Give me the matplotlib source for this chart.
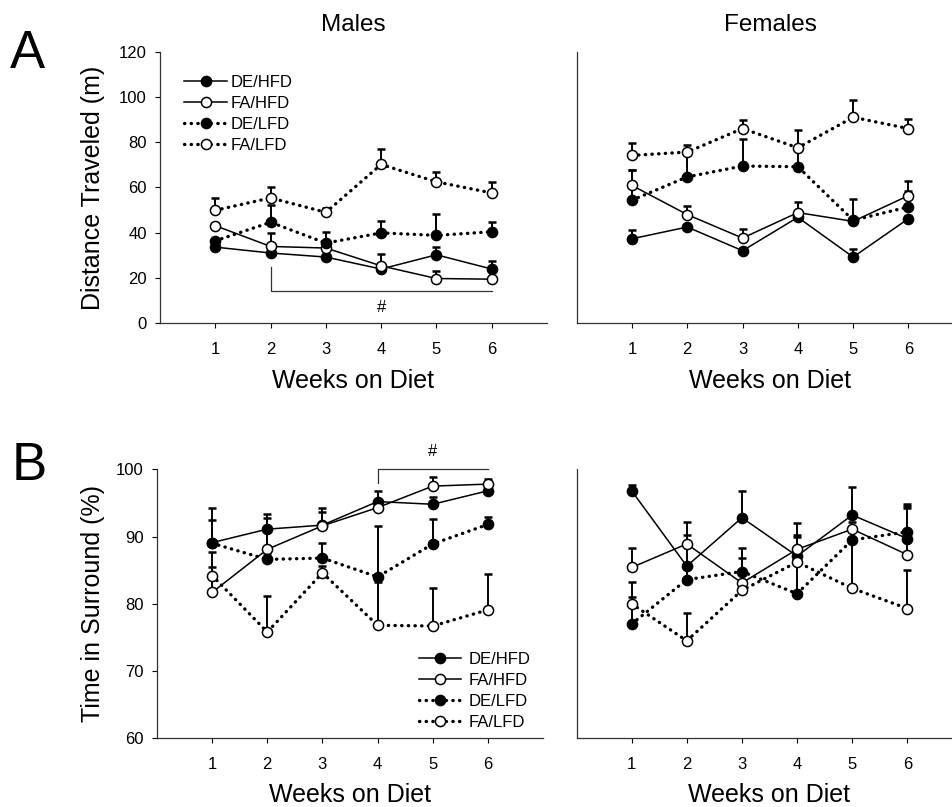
import matplotlib
matplotlib.use("Agg")
import matplotlib.pyplot as plt

plt.rcParams['font.family'] = ['Liberation Sans', 'DejaVu Sans']

weeks = [1, 2, 3, 4, 5, 6]
groups = ["DE/HFD", "FA/HFD", "DE/LFD", "FA/LFD"]

# Distance traveled (m), males
m_dist_de_hfd = [33.6, 31.0, 29.2, 23.9, 30.2, 23.9]
m_dist_de_hfd_err = [1.0, 1.0, 1.0, 1.0, 3.4, 3.6]
m_dist_fa_hfd = [43.1, 33.9, 33.2, 25.3, 19.7, 19.4]
m_dist_fa_hfd_err = [1.0, 6.0, 1.0, 5.4, 3.4, 1.0]
m_dist_de_lfd = [36.4, 44.6, 35.4, 39.9, 38.8, 40.4]
m_dist_de_lfd_err = [1.0, 7.8, 4.7, 5.4, 9.5, 4.2]
m_dist_fa_lfd = [49.9, 55.4, 49.0, 70.2, 62.5, 57.6]
m_dist_fa_lfd_err = [5.4, 4.8, 2.0, 7.0, 4.5, 4.8]

# Distance traveled (m), females
f_dist_de_hfd = [37.3, 42.5, 32.0, 46.8, 29.2, 46.2]
f_dist_de_hfd_err = [3.7, 1.0, 1.0, 1.0, 3.5, 1.0]
f_dist_fa_hfd = [60.9, 48.0, 37.6, 48.9, 45.0, 56.4]
f_dist_fa_hfd_err = [7.0, 3.7, 4.2, 4.6, 1.0, 6.4]
f_dist_de_lfd = [54.4, 64.7, 69.5, 69.2, 45.5, 51.4]
f_dist_de_lfd_err = [13.3, 11.5, 11.8, 8.5, 9.5, 7.0]
f_dist_fa_lfd = [74.2, 75.7, 86.1, 77.6, 91.1, 86.1]
f_dist_fa_lfd_err = [5.5, 3.0, 3.7, 7.7, 7.7, 4.1]

# Time in surround (%), males
m_sur_de_hfd = [89.1, 91.1, 91.7, 95.2, 94.8, 96.8]
m_sur_de_hfd_err = [3.3, 2.2, 2.5, 1.6, 1.1, 0.5]
m_sur_fa_hfd = [81.7, 88.1, 91.6, 94.3, 97.5, 97.8]
m_sur_fa_hfd_err = [3.7, 4.7, 2.1, 1.0, 1.3, 0.7]
m_sur_de_lfd = [89.0, 86.6, 86.8, 84.0, 88.9, 91.8]
m_sur_de_lfd_err = [5.3, 1.0, 2.2, 7.6, 3.7, 1.1]
m_sur_fa_lfd = [84.2, 75.8, 84.6, 76.8, 76.7, 79.1]
m_sur_fa_lfd_err = [3.5, 5.3, 1.0, 6.5, 5.7, 5.3]

# Time in surround (%), females
f_sur_de_hfd = [96.8, 85.6, 92.8, 87.1, 93.2, 89.7]
f_sur_de_hfd_err = [0.9, 4.6, 4.0, 4.9, 4.1, 5.1]
f_sur_fa_hfd = [85.4, 88.9, 83.1, 88.1, 91.1, 87.3]
f_sur_fa_hfd_err = [2.9, 3.3, 5.2, 2.2, 1.0, 7.2]
f_sur_de_lfd = [77.0, 83.6, 84.8, 81.5, 89.5, 90.7]
f_sur_de_lfd_err = [6.3, 2.0, 2.0, 8.4, 1.5, 3.5]
f_sur_fa_lfd = [80.0, 74.5, 82.0, 86.2, 82.3, 79.3]
f_sur_fa_lfd_err = [1.0, 4.1, 1.0, 1.0, 7.0, 5.7]

DOTS = (0, (0.1, 1.9))


def draw_panel(ax, series, errors):
    # filled = DE, open = FA; solid = HFD, dotted = LFD
    styles = [("black", "-", 1.1), ("white", "-", 1.1),
              ("black", DOTS, 2.4), ("white", DOTS, 2.4)]
    handles = []
    for vals, errs, (face, ls, lw), name in zip(series, errors, styles, groups):
        ax.errorbar(weeks, vals, yerr=[[0] * len(errs), errs], fmt="none",
                    ecolor="black", elinewidth=1.4, capsize=3, capthick=1.8,
                    zorder=2)
        line, = ax.plot(weeks, vals, color="black", linestyle=ls, linewidth=lw,
                        dash_capstyle="round", marker="o", markersize=7.3,
                        markerfacecolor=face, markeredgecolor="black",
                        markeredgewidth=1.1, label=name, zorder=3)
        handles.append(line)

    ax.set_xlim(0, 7)
    ax.set_xticks(weeks)
    for side in ["top", "right"]:
        ax.spines[side].set_visible(False)
    for side in ["left", "bottom"]:
        ax.spines[side].set_linewidth(0.9)
        ax.spines[side].set_color("#333333")
    ax.tick_params(axis="x", length=3.5, width=0.8, pad=10, labelsize=12)
    ax.tick_params(axis="y", length=3.5, width=0.8, pad=6, labelsize=12)
    return handles


fig = plt.figure(figsize=(9.52, 8.07), dpi=100)

W = 952.0
H = 807.0
ax_am = fig.add_axes([160 / W, 1 - 323 / H, 387 / W, 271 / H])
ax_af = fig.add_axes([576.7 / W, 1 - 323 / H, 387 / W, 271 / H])
ax_bm = fig.add_axes([157 / W, 1 - 738.3 / H, 386 / W, 269 / H])
ax_bf = fig.add_axes([576.5 / W, 1 - 738.3 / H, 386 / W, 269 / H])

h = draw_panel(ax_am, [m_dist_de_hfd, m_dist_fa_hfd, m_dist_de_lfd, m_dist_fa_lfd],
               [m_dist_de_hfd_err, m_dist_fa_hfd_err, m_dist_de_lfd_err, m_dist_fa_lfd_err])
draw_panel(ax_af, [f_dist_de_hfd, f_dist_fa_hfd, f_dist_de_lfd, f_dist_fa_lfd],
           [f_dist_de_hfd_err, f_dist_fa_hfd_err, f_dist_de_lfd_err, f_dist_fa_lfd_err])
h2 = draw_panel(ax_bm, [m_sur_de_hfd, m_sur_fa_hfd, m_sur_de_lfd, m_sur_fa_lfd],
                [m_sur_de_hfd_err, m_sur_fa_hfd_err, m_sur_de_lfd_err, m_sur_fa_lfd_err])
draw_panel(ax_bf, [f_sur_de_hfd, f_sur_fa_hfd, f_sur_de_lfd, f_sur_fa_lfd],
           [f_sur_de_hfd_err, f_sur_fa_hfd_err, f_sur_de_lfd_err, f_sur_fa_lfd_err])

for ax in [ax_am, ax_af]:
    ax.set_ylim(0, 120)
    ax.set_yticks([0, 20, 40, 60, 80, 100, 120])
for ax in [ax_bm, ax_bf]:
    ax.set_ylim(60, 100)
    ax.set_yticks([60, 70, 80, 90, 100])

# female panels have no y ticks
for ax in [ax_af, ax_bf]:
    ax.tick_params(axis="y", left=False, labelleft=False)

ax_am.set_ylabel("Distance Traveled (m)", fontsize=18)
ax_am.yaxis.set_label_coords(-0.143, 0.5)
ax_bm.set_ylabel("Time in Surround (%)", fontsize=18)
ax_bm.yaxis.set_label_coords(-0.135, 0.5)

for ax, off in [(ax_am, -0.17), (ax_af, -0.17), (ax_bm, -0.168), (ax_bf, -0.168)]:
    ax.set_xlabel("Weeks on Diet", fontsize=18)
    ax.xaxis.set_label_coords(0.5, off)

# legends
ax_am.legend(handles=h, loc="upper left", bbox_to_anchor=(0.062, 0.915),
             frameon=False, fontsize=12, borderpad=0, borderaxespad=0,
             handlelength=2.6, handletextpad=0.2, labelspacing=0.36)
ax_bm.legend(handles=h2, loc="upper left", bbox_to_anchor=(0.679, 0.32),
             frameon=False, fontsize=12, borderpad=0, borderaxespad=0,
             handlelength=2.5, handletextpad=0.5, labelspacing=0.36)

# significance brackets
ax_am.plot([2, 2, 6], [25, 14, 14], color="#333333", linewidth=0.9, clip_on=False)
ax_am.text(4, 7, "#", ha="center", va="center", fontsize=12)
ax_bm.plot([4, 4, 6], [98.0, 100.1, 100.1], color="#333333", linewidth=0.9, clip_on=False)
ax_bm.text(5, 102.6, "#", ha="center", va="center", fontsize=12)

# titles and panel letters
fig.text(353 / W, 1 - 31 / H, "Males", ha="center", va="baseline", fontsize=17.5)
fig.text(770 / W, 1 - 31 / H, "Females", ha="center", va="baseline", fontsize=17.5)
fig.text(10 / W, 1 - 68 / H, "A", ha="left", va="baseline", fontsize=38)
fig.text(12 / W, 1 - 480 / H, "B", ha="left", va="baseline", fontsize=38)

fig.savefig("out.png", dpi=100)
